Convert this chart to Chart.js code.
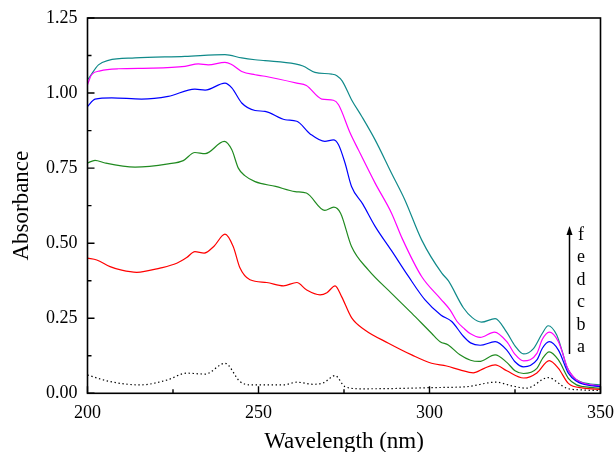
<!DOCTYPE html>
<html>
<head>
<meta charset="utf-8">
<script src="https://cdn.jsdelivr.net/npm/chart.js@4.4.1/dist/chart.umd.min.js"></script>
<style>
html,body{margin:0;padding:0;background:#fff;}
#wrap{width:615px;height:452px;}
</style>
</head>
<body>
<div id="wrap"><canvas id="c" width="615" height="452"></canvas></div>
<script>
// ---- data (wavelength nm, absorbance) ----
const wlA = [200,206.6,215.4,223.2,229,234.4,240.2,244.6,247.5,257.3,261.2,266,269,272.4,275.3,280,290,301,310.9,319.4,324,328.4,334.7,340.1,345,350];
const absA = [0.061,0.039,0.028,0.044,0.067,0.064,0.100,0.039,0.028,0.028,0.037,0.030,0.035,0.059,0.022,0.015,0.016,0.019,0.022,0.037,0.025,0.017,0.052,0.017,0.011,0.009];

const wlB = [200,202.7,206.6,210,214.4,221.2,226.1,229,231.4,234.1,237,240.2,242.6,244.6,247.5,252.4,257.3,261.2,264.1,268,270,272.4,274.3,277.2,281.1,288,294.8,300.6,305,308.9,312.8,316,319.2,322.6,327.5,331.4,335,337.7,340.6,345,350];
const absB = [0.450,0.444,0.422,0.410,0.403,0.417,0.433,0.452,0.472,0.467,0.490,0.530,0.489,0.417,0.378,0.369,0.358,0.369,0.344,0.328,0.335,0.358,0.322,0.252,0.211,0.167,0.128,0.100,0.091,0.078,0.068,0.083,0.095,0.075,0.051,0.068,0.109,0.083,0.033,0.017,0.013];

const wlC = [200,202.2,205.1,213.9,223.6,228,231.4,234.4,240,242.2,244.1,246,249,255,260.7,264,269.4,272,274,277.2,282.1,288.9,294.8,300.6,303.1,305.5,308.9,312,314.5,319.2,322.6,325,327.5,331.4,333,335,337.7,340.6,343,345,350];
const absC = [0.767,0.776,0.767,0.753,0.764,0.775,0.802,0.798,0.839,0.811,0.750,0.725,0.705,0.689,0.672,0.667,0.609,0.620,0.600,0.489,0.411,0.333,0.267,0.200,0.172,0.161,0.128,0.110,0.106,0.128,0.103,0.075,0.066,0.083,0.115,0.138,0.111,0.050,0.028,0.022,0.017];

const wlD = [200,202.2,207.1,215.8,223.6,231.4,234.4,240.2,242.2,245.1,249,251.9,257.8,261.2,265.1,269.4,271.9,273.4,275.3,277.2,280.5,284.1,288.9,293.8,298.7,303.3,306.5,309.9,312,314.8,319.2,322.6,325,327.5,331.4,333,335,337.7,340.6,343,345,350];
const absD = [0.955,0.980,0.984,0.980,0.989,1.013,1.010,1.033,1.017,0.967,0.942,0.939,0.911,0.906,0.864,0.839,0.844,0.828,0.767,0.689,0.630,0.556,0.475,0.390,0.311,0.261,0.239,0.190,0.168,0.160,0.172,0.144,0.105,0.088,0.111,0.150,0.172,0.144,0.067,0.040,0.030,0.022];

const wlE = [200,201.2,203.7,209,219,228.5,232.4,235.3,240.2,242,245.1,249,251.9,261.2,264,268.5,271.9,273.4,276.8,279.2,284.1,288.9,292,297.7,303.3,306,308,310,312,314.8,319,322.6,325,327.5,331.4,333,335,337.7,340.6,343,345,350];
const absE = [1.028,1.061,1.074,1.081,1.083,1.089,1.097,1.094,1.102,1.096,1.072,1.061,1.056,1.033,1.025,0.980,0.976,0.961,0.867,0.811,0.700,0.600,0.516,0.389,0.314,0.278,0.240,0.217,0.198,0.186,0.204,0.172,0.130,0.108,0.133,0.180,0.204,0.172,0.078,0.045,0.033,0.024];

const wlF = [200,200.7,203.2,206.1,213.9,228.5,240.2,245.1,249,251.9,260.7,263,266.5,271.4,272.9,274.5,277.2,280.2,284.1,288.9,292.8,297.7,303.6,305.5,309.9,312.5,315.2,319.2,322.6,325,327.5,330.4,333,334.7,337.2,338.8,340.1,342,344,347,350];
const absF = [1.044,1.055,1.094,1.109,1.117,1.122,1.128,1.117,1.111,1.108,1.097,1.090,1.069,1.063,1.058,1.040,0.978,0.922,0.844,0.733,0.644,0.511,0.400,0.375,0.285,0.252,0.237,0.249,0.203,0.158,0.131,0.149,0.200,0.225,0.194,0.140,0.089,0.055,0.039,0.031,0.028];

const seriesLabels = ['a','b','c','d','e','f'];
const seriesColors = ['#000000','#ff0000','#208a20','#0000ff','#ff00ff','#108a8a'];
const xTicks = [200,250,300,350];
const yTicks = [0,0.25,0.5,0.75,1.0,1.25];
const xMinor = [225,275,325];
const yMinor = [0.125,0.375,0.625,0.875,1.125];

const wls = [wlA,wlB,wlC,wlD,wlE,wlF];
const abss = [absA,absB,absC,absD,absE,absF];

const FONT = "'Liberation Serif','Times New Roman',serif";

const datasets = seriesLabels.map((lab,i)=>({
  label: lab,
  data: wls[i].map((w,k)=>({x:w,y:abss[i][k]})),
  borderColor: seriesColors[i],
  borderWidth: 1.2,
  borderDash: i===0 ? [1.4,2.6] : [],
  pointRadius: 0,
  fill: false,
  cubicInterpolationMode: 'monotone'
}));

function zeroPad(s){s.paddingLeft=0;s.paddingRight=0;s.paddingTop=0;s.paddingBottom=0;}

const framePlugin = {
  id:'frame',
  afterDraw(chart){
    const {ctx, chartArea:a, scales:{x,y}} = chart;
    ctx.save();
    ctx.strokeStyle='#000';
    ctx.lineWidth=1.6;
    ctx.strokeRect(a.left,a.top,a.right-a.left,a.bottom-a.top);
    ctx.lineWidth=1.4;
    ctx.beginPath();
    xTicks.forEach(v=>{const p=x.getPixelForValue(v);ctx.moveTo(p,a.bottom);ctx.lineTo(p,a.bottom-7);});
    xMinor.forEach(v=>{const p=x.getPixelForValue(v);ctx.moveTo(p,a.bottom);ctx.lineTo(p,a.bottom-4);});
    yTicks.forEach(v=>{const p=y.getPixelForValue(v);ctx.moveTo(a.left,p);ctx.lineTo(a.left+7,p);});
    yMinor.forEach(v=>{const p=y.getPixelForValue(v);ctx.moveTo(a.left,p);ctx.lineTo(a.left+4,p);});
    ctx.stroke();
    // arrow and labels
    const ax=569.5, ay0=354, ay1=226;
    ctx.lineWidth=1.5;
    ctx.beginPath();ctx.moveTo(ax,ay0);ctx.lineTo(ax,ay1+7);ctx.stroke();
    ctx.beginPath();ctx.moveTo(ax,ay1);ctx.lineTo(ax-3,ay1+9);ctx.lineTo(ax+3,ay1+9);ctx.closePath();ctx.fillStyle='#000';ctx.fill();
    ctx.font='18px '+FONT;
    ctx.textAlign='center';ctx.textBaseline='middle';
    const labs=['f','e','d','c','b','a'];
    labs.forEach((t,i)=>ctx.fillText(t,581,235+i*22.5));
    ctx.restore();
  }
};

new Chart(document.getElementById('c'),{
  type:'line',
  data:{datasets},
  options:{
    responsive:false,
    animation:false,
    devicePixelRatio:1,
    layout:{padding:{left:0,top:18,right:14.5,bottom:0}},
    plugins:{legend:{display:false},tooltip:{enabled:false}},
    scales:{
      x:{
        type:'linear',min:200,max:350,
        afterBuildTicks(s){s.ticks=xTicks.map(v=>({value:v}));},
        afterFit(s){s.height=58.7;zeroPad(s);},
        ticks:{font:{family:FONT,size:18},color:'#000',padding:9,maxRotation:0},
        grid:{display:false,drawTicks:false},border:{display:false},
        title:{display:true,text:'Wavelength (nm)',font:{family:FONT,size:23},color:'#000',padding:{top:0,bottom:-4}}
      },
      y:{
        type:'linear',min:0,max:1.25,
        afterBuildTicks(s){s.ticks=yTicks.map(v=>({value:v}));},
        afterFit(s){s.width=87.5;zeroPad(s);},
        ticks:{font:{family:FONT,size:18},color:'#000',padding:10,callback:v=>Number(v).toFixed(2)},
        grid:{display:false,drawTicks:false},border:{display:false},
        title:{display:true,text:'Absorbance',font:{family:FONT,size:23},color:'#000',padding:{top:8,bottom:0}}
      }
    }
  },
  plugins:[framePlugin]
});
</script>
</body>
</html>
